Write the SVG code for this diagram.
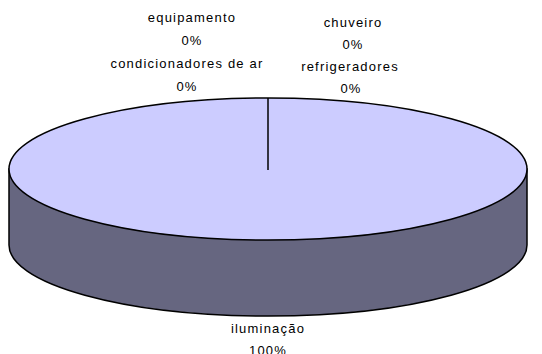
<svg xmlns="http://www.w3.org/2000/svg" width="542" height="354" viewBox="0 0 542 354">
<style>
text{font-family:"Liberation Sans",Arial,sans-serif;font-size:13px;fill:#000;text-anchor:middle;letter-spacing:1.2px}
.top{fill:#CCCCFF;stroke:#000;stroke-width:1.5}
.side{fill:#666680;stroke:#000;stroke-width:1.5}
</style>
<g id="pie">
<path class="side" d="M9,169 L9,245 A259,71 0 0 0 527,245 L527,169 Z"/>
<ellipse class="top" cx="268" cy="169" rx="259" ry="71"/>
</g>
<g id="connectors">
<line x1="268" y1="98" x2="268" y2="170" stroke="#000" stroke-width="1.5"/>
</g>
<g id="labels">
<text x="192" y="22">equipamento</text>
<text x="192" y="45">0%</text>
<text x="187" y="68">condicionadores de ar</text>
<text x="187" y="91">0%</text>
<text x="353" y="27">chuveiro</text>
<text x="353" y="49">0%</text>
<text x="350" y="71">refrigeradores</text>
<text x="351" y="93">0%</text>
<text x="268" y="333">iluminação</text>
<text x="268" y="355">100%</text>
</g>
</svg>
